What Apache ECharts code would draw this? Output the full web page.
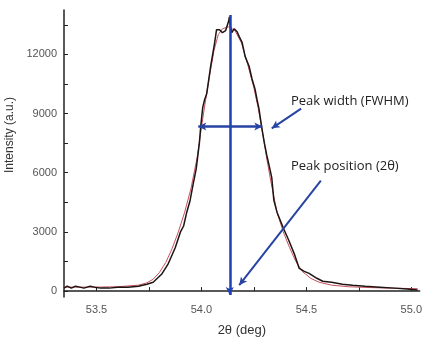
<!DOCTYPE html>
<html>
<head>
<meta charset="utf-8">
<script src="https://cdn.jsdelivr.net/npm/echarts@6/dist/echarts.min.js"></script>
<style>
  html, body { margin: 0; padding: 0; background: #fff; }
  #chart { width: 425px; height: 342px; }
</style>
</head>
<body>
<div id="chart"></div>
<script>
  // measured pattern (black)
  const measTheta = [53.345, 53.36, 53.38, 53.40, 53.42, 53.44, 53.47, 53.49, 53.52, 53.56, 53.60, 53.65, 53.70, 53.74, 53.77,
    53.79, 53.81, 53.84, 53.875, 53.90, 53.915, 53.93, 53.945, 53.96, 53.975, 53.99, 53.997, 54.006, 54.015, 54.025,
    54.044, 54.063, 54.072, 54.086, 54.10, 54.115, 54.124, 54.13, 54.133, 54.138, 54.145, 54.156, 54.17, 54.18, 54.194,
    54.208, 54.227, 54.241, 54.255, 54.265, 54.274, 54.288, 54.30, 54.311, 54.325, 54.335, 54.345, 54.36, 54.39, 54.415,
    54.442, 54.466, 54.49, 54.513, 54.55, 54.578, 54.62, 54.672, 54.72, 54.78, 54.85, 54.92, 54.98, 55.03]
  const measInt = [150, 250, 150, 250, 200, 150, 250, 200, 150, 150, 200, 200, 250, 350, 450,
    650, 850, 1350, 2200, 3000, 3300, 4000, 4550, 5400, 6200, 7500, 8400, 9300, 9700, 10000,
    11400, 12600, 13250, 13250, 13100, 13200, 13150, 13700, 13900, 13400, 13100, 13300, 13150, 12900, 12600,
    11900, 11400, 10750, 10250, 9700, 9250, 8250, 7500, 6900, 6250, 5750, 4600, 4000, 3200, 2600,
    1900, 1150, 1000, 900, 650, 500, 450, 350, 300, 250, 200, 150, 100, 50]

  // fitted profile (red)
  const fitTheta = [53.345, 53.40, 53.50, 53.60, 53.70, 53.74, 53.77, 53.80, 53.83, 53.86, 53.89, 53.92, 53.95, 53.98,
    54.00, 54.02, 54.04, 54.06, 54.08, 54.10, 54.13, 54.16, 54.19, 54.22, 54.25, 54.27, 54.29, 54.31, 54.33, 54.36,
    54.39, 54.42, 54.45, 54.48, 54.52, 54.56, 54.62, 54.70, 54.80, 54.90, 55.03]
  const fitInt = [200, 200, 200, 220, 300, 420, 600, 950, 1450, 2150, 3000, 4000, 5200, 6800,
    8300, 9700, 11000, 12200, 13000, 13300, 13400, 13200, 12600, 11500, 10300, 9300, 8100, 6800, 5600, 4000,
    3000, 2200, 1500, 1000, 650, 450, 300, 220, 180, 150, 120]

  // axes
  const xTicks = [53.5, 53.75, 54.0, 54.25, 54.5, 54.75, 55.0]
  const xLabels = [53.5, 54.0, 54.5, 55.0]
  const yTicks = [0, 1500, 3000, 4500, 6000, 7500, 9000, 10500, 12000, 13500]
  const yLabels = [0, 3000, 6000, 9000, 12000]

  // annotation arrows (data coordinates)
  const peakPosLine = [[54.135, 14000], [54.135, -200]]
  const fwhmLine = [[53.985, 8350], [54.29, 8350]]
  const fwhmPointer = [[54.475, 9250], [54.335, 8250]]
  const posPointer = [[54.569, 5600], [54.18, 300]]

  const blue = '#2743a3'
  const pair = (xs, ys) => xs.map((x, i) => [x, ys[i]])
  const seg = (p, color, width, symbols) => [
    { coord: p[0], symbol: symbols[0], lineStyle: { color: color, width: width, type: 'solid' } },
    { coord: p[1], symbol: symbols[1] }
  ]

  const chart = echarts.init(document.getElementById('chart'))
  chart.setOption({
    animation: false,
    backgroundColor: '#fff',
    grid: { left: 64, top: 10, right: 0, bottom: 41 },
    xAxis: {
      type: 'value',
      min: 53.345,
      max: 55.04,
      name: '2θ (deg)',
      nameLocation: 'middle',
      nameGap: 27,
      nameTextStyle: { fontSize: 13, color: '#333', fontFamily: 'Liberation Sans' },
      axisLine: { lineStyle: { color: '#222', width: 1.5 } },
      axisTick: { inside: true, length: 4, customValues: xTicks, lineStyle: { color: '#222' } },
      axisLabel: {
        customValues: xLabels, margin: 7, fontSize: 11, color: '#555', fontFamily: 'Liberation Sans',
        formatter: v => v.toFixed(1)
      },
      splitLine: { show: false }
    },
    yAxis: {
      type: 'value',
      min: -300,
      max: 14250,
      axisLine: { show: true, lineStyle: { color: '#222', width: 1.5 } },
      axisTick: { show: true, inside: true, length: 4, customValues: yTicks, lineStyle: { color: '#222' } },
      axisLabel: {
        customValues: yLabels, margin: 7, fontSize: 11, color: '#555', fontFamily: 'Liberation Sans',
        formatter: v => String(v)
      },
      splitLine: { show: false }
    },
    graphic: [
      {
        type: 'text', x: 10, y: 135, rotation: Math.PI / 2,
        style: { text: 'Intensity (a.u.)', fontSize: 12, fill: '#333', fontFamily: 'Liberation Sans', align: 'center', verticalAlign: 'middle' }
      },
      {
        type: 'text', left: 291, top: 95,
        style: { text: 'Peak width (FWHM)', fontSize: 13, fill: '#222', fontFamily: 'Open Sans' }
      },
      {
        type: 'text', left: 291, top: 160,
        style: { text: 'Peak position (2θ)', fontSize: 13, fill: '#222', fontFamily: 'Open Sans' }
      }
    ],
    series: [
      {
        name: 'fit',
        type: 'line',
        data: pair(fitTheta, fitInt),
        showSymbol: false,
        lineStyle: { color: '#c8505e', width: 1 }
      },
      {
        name: 'measured',
        type: 'line',
        data: pair(measTheta, measInt),
        showSymbol: false,
        lineStyle: { color: '#1e1414', width: 1.5 },
        markLine: {
          silent: true,
          symbolSize: [6, 8],
          label: { show: false },
          data: [
            seg(peakPosLine, '#1f3fb5', 2.5, ['none', 'arrow']),
            seg(fwhmLine, blue, 2.5, ['arrow', 'arrow']),
            seg(fwhmPointer, blue, 2, ['none', 'arrow']),
            seg(posPointer, blue, 2, ['none', 'arrow'])
          ]
        }
      }
    ]
  })
</script>
</body>
</html>
